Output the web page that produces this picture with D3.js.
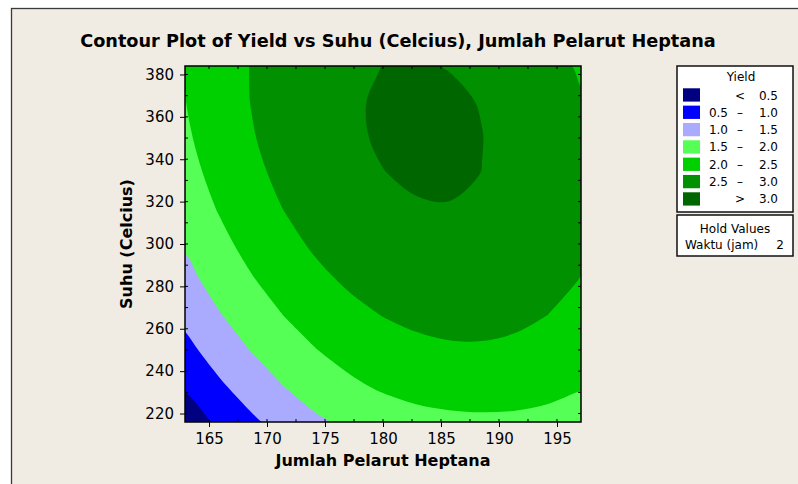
<!DOCTYPE html>
<html lang="en">
<meta charset="utf-8">

<head>
    <title>Contour Plot of Yield</title>
    <script src="https://d3js.org/d3.v7.min.js"></script>
    <style>
        body { margin: 0; background: #fff; }
        svg text { font-family: "DejaVu Sans", Verdana, sans-serif; fill: #000; }
    </style>
</head>

<body>
    <div id="plot"></div>
    <script>

        // grid nodes (Jumlah Pelarut Heptana, Suhu) and yield
        var xValues = [162.93, 165.78, 168.62, 171.47, 174.31, 177.16, 180.00, 182.85, 185.69, 188.54, 191.38, 194.23, 197.07];
        var yValues = [216.0, 232.8, 249.6, 266.4, 283.2, 300.0, 316.8, 333.6, 350.4, 367.2, 384.0];

        // one row per yValue, bottom row first
        var yieldGrid = [
            [0.22, 0.59, 0.91, 1.19, 1.43, 1.60, 1.74, 1.84, 1.89, 1.91, 1.90, 1.85, 1.76],
            [0.555, 0.912, 1.227, 1.499, 1.728, 1.915, 2.060, 2.162, 2.221, 2.238, 2.213, 2.145, 2.034],
            [0.856, 1.203, 1.508, 1.770, 1.990, 2.167, 2.302, 2.394, 2.444, 2.451, 2.416, 2.339, 2.218],
            [1.122, 1.459, 1.754, 2.007, 2.217, 2.385, 2.510, 2.592, 2.632, 2.630, 2.585, 2.498, 2.368],
            [1.353, 1.681, 1.966, 2.209, 2.410, 2.567, 2.683, 2.756, 2.786, 2.774, 2.719, 2.622, 2.490],
            [1.550, 1.868, 2.144, 2.377, 2.567, 2.716, 2.821, 2.884, 2.905, 2.883, 2.819, 2.712, 2.563],
            [1.712, 2.021, 2.286, 2.510, 2.691, 2.829, 2.925, 2.979, 2.990, 2.958, 2.884, 2.768, 2.609],
            [1.840, 2.139, 2.395, 2.609, 2.780, 2.908, 2.995, 3.038, 3.040, 2.998, 2.915, 2.788, 2.620],
            [1.933, 2.222, 2.469, 2.673, 2.834, 2.960, 3.030, 3.064, 3.055, 3.004, 2.911, 2.775, 2.596],
            [1.992, 2.271, 2.508, 2.702, 2.854, 2.970, 3.030, 3.054, 3.036, 2.990, 2.872, 2.727, 2.538],
            [2.016, 2.285, 2.512, 2.697, 2.839, 2.939, 3.004, 3.018, 2.993, 2.912, 2.799, 2.644, 2.446]
        ];

        var levels = [0.5, 1.0, 1.5, 2.0, 2.5, 3.0];
        var bandColors = ["#000080", "#0000ff", "#aaaaff", "#55ff55", "#00d000", "#009000", "#006600"];
        var bandLabels = [["", "<", "0.5"], ["0.5", "–", "1.0"], ["1.0", "–", "1.5"], ["1.5", "–", "2.0"],
                          ["2.0", "–", "2.5"], ["2.5", "–", "3.0"], ["", ">", "3.0"]];

        var xTicks = [165, 170, 175, 180, 185, 190, 195];
        var yTicks = [220, 240, 260, 280, 300, 320, 340, 360, 380];
        var xMinor = [165, 167.5, 170, 172.5, 175, 177.5, 180, 182.5, 185, 187.5, 190, 192.5, 195];
        var yMinor = [220, 230, 240, 250, 260, 270, 280, 290, 300, 310, 320, 330, 340, 350, 360, 370, 380];

        var plotLeft = 185, plotRight = 581, plotTop = 66, plotBottom = 422;

        var svg = d3.select("#plot").append("svg")
            .attr("width", 798)
            .attr("height", 484);

        // graph window background
        svg.append("rect").attr("x", 0).attr("y", 0).attr("width", 798).attr("height", 484).attr("fill", "#fff");
        svg.append("rect")
            .attr("x", 11.5).attr("y", 8.5)
            .attr("width", 820).attr("height", 520)
            .attr("fill", "#f0ece3")
            .attr("stroke", "#3a3a3a")
            .attr("stroke-width", 1.3);

        var x = d3.scaleLinear().domain([xValues[0], xValues[xValues.length - 1]]).range([plotLeft, plotRight]);
        var y = d3.scaleLinear().domain([yValues[0], yValues[yValues.length - 1]]).range([plotBottom, plotTop]);

        svg.append("clipPath").attr("id", "plotclip")
            .append("rect")
            .attr("x", plotLeft).attr("y", plotTop)
            .attr("width", plotRight - plotLeft).attr("height", plotBottom - plotTop);

        var nx = xValues.length, ny = yValues.length;
        var flat = [];
        yieldGrid.forEach(function (row) { row.forEach(function (v) { flat.push(v); }); });

        var contours = d3.contours().size([nx, ny]).thresholds(levels)(flat);

        // contour grid coords -> pixels (node i sits at i + 0.5)
        var gx = d3.scaleLinear().domain([0.5, nx - 0.5]).range([x(xValues[0]), x(xValues[nx - 1])]);
        var gy = d3.scaleLinear().domain([0.5, ny - 0.5]).range([y(yValues[0]), y(yValues[ny - 1])]);
        var ringLine = d3.line()
            .x(function (p) { return gx(p[0]); })
            .y(function (p) { return gy(p[1]); })
            .curve(d3.curveCatmullRomClosed.alpha(0.5));

        function contourPath(c) {
            return c.coordinates.map(function (poly) {
                return poly.map(function (ring) { return ringLine(ring.slice(0, -1)); }).join("");
            }).join("");
        }

        var plot = svg.append("g").attr("clip-path", "url(#plotclip)");
        plot.append("rect")
            .attr("x", plotLeft).attr("y", plotTop)
            .attr("width", plotRight - plotLeft).attr("height", plotBottom - plotTop)
            .attr("fill", bandColors[0]);

        plot.selectAll("path.band")
            .data(contours)
            .enter()
            .append("path")
            .attr("class", "band")
            .attr("d", contourPath)
            .attr("fill-rule", "evenodd")
            .attr("fill", function (d, i) { return bandColors[i + 1]; });

        // inner minor ticks on all four sides
        var tickG = svg.append("g").attr("stroke", "#000").attr("stroke-width", 1);
        xMinor.forEach(function (v) {
            tickG.append("line").attr("x1", x(v)).attr("x2", x(v)).attr("y1", plotBottom).attr("y2", plotBottom - 3);
            tickG.append("line").attr("x1", x(v)).attr("x2", x(v)).attr("y1", plotTop).attr("y2", plotTop + 3);
        });
        yMinor.forEach(function (v) {
            tickG.append("line").attr("y1", y(v)).attr("y2", y(v)).attr("x1", plotLeft).attr("x2", plotLeft + 3);
            tickG.append("line").attr("y1", y(v)).attr("y2", y(v)).attr("x1", plotRight).attr("x2", plotRight - 3);
        });

        // axes
        var xAxis = svg.append("g")
            .attr("transform", "translate(0," + plotBottom + ")")
            .call(d3.axisBottom(x).tickValues(xTicks).tickSize(5).tickPadding(6))
            .attr("font-family", "DejaVu Sans")
            .attr("font-size", 15);
        xAxis.select(".domain").remove();

        var yAxis = svg.append("g")
            .attr("transform", "translate(" + plotLeft + ",0)")
            .call(d3.axisLeft(y).tickValues(yTicks).tickSize(5).tickPadding(6))
            .attr("font-family", "DejaVu Sans")
            .attr("font-size", 15);
        yAxis.select(".domain").remove();

        svg.append("rect")
            .attr("x", plotLeft).attr("y", plotTop)
            .attr("width", plotRight - plotLeft).attr("height", plotBottom - plotTop)
            .attr("fill", "none")
            .attr("stroke", "#000")
            .attr("stroke-width", 1.5);

        // titles
        svg.append("text")
            .attr("x", 398).attr("y", 47)
            .attr("text-anchor", "middle")
            .attr("font-weight", "bold")
            .attr("font-size", 17.7)
            .text("Contour Plot of Yield vs Suhu (Celcius), Jumlah Pelarut Heptana");

        svg.append("text")
            .attr("x", (plotLeft + plotRight) / 2).attr("y", 466)
            .attr("text-anchor", "middle")
            .attr("font-weight", "bold")
            .attr("font-size", 16)
            .text("Jumlah Pelarut Heptana");

        svg.append("text")
            .attr("transform", "translate(132," + (plotTop + plotBottom) / 2 + ") rotate(-90)")
            .attr("text-anchor", "middle")
            .attr("font-weight", "bold")
            .attr("font-size", 16)
            .text("Suhu (Celcius)");

        // legend
        var lg = svg.append("g").attr("font-size", 12);
        lg.append("rect")
            .attr("x", 677).attr("y", 66).attr("width", 116).attr("height", 146)
            .attr("fill", "#fff").attr("stroke", "#111").attr("stroke-width", 1.5);
        lg.append("text").attr("x", 741).attr("y", 81).attr("text-anchor", "middle").text("Yield");

        bandLabels.forEach(function (lab, i) {
            var ty = 88.3 + i * 17.33;
            lg.append("rect")
                .attr("x", 683).attr("y", ty).attr("width", 17).attr("height", 13.3)
                .attr("fill", bandColors[i]);
            lg.append("text").attr("x", 728).attr("y", ty + 11.2).attr("text-anchor", "end").text(lab[0]);
            lg.append("text").attr("x", 740).attr("y", ty + 11.2).attr("text-anchor", "middle").text(lab[1]);
            lg.append("text").attr("x", 778).attr("y", ty + 11.2).attr("text-anchor", "end").text(lab[2]);
        });

        lg.append("rect")
            .attr("x", 677).attr("y", 215).attr("width", 116).attr("height", 41)
            .attr("fill", "#fff").attr("stroke", "#111").attr("stroke-width", 1.5);
        lg.append("text").attr("x", 735).attr("y", 232.7).attr("text-anchor", "middle").text("Hold Values");
        lg.append("text").attr("x", 685).attr("y", 249.3).text("Waktu (jam)");
        lg.append("text").attr("x", 784).attr("y", 249.3).attr("text-anchor", "end").text("2");

    </script>
</body>

</html>
